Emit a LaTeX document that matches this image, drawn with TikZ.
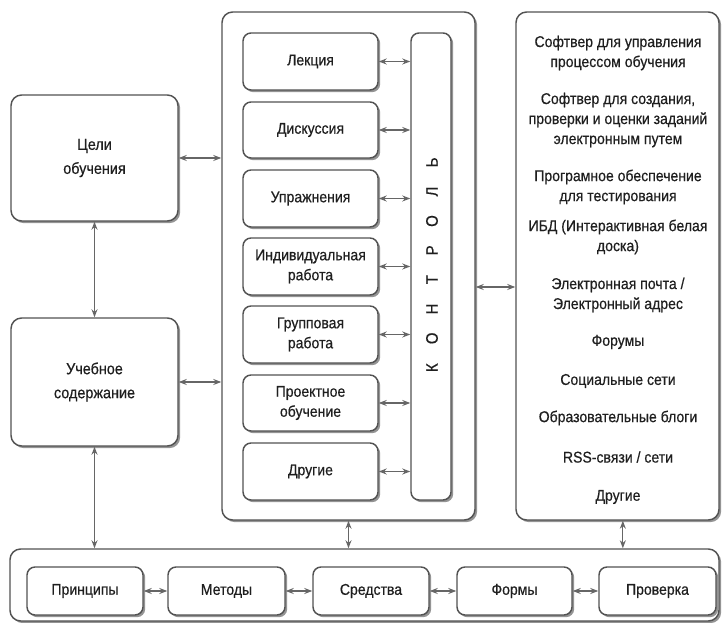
\documentclass[tikz,border=0pt]{standalone}
\usepackage{fontspec}
\setmainfont[FakeStretch=0.9,FakeBold=0.5]{Liberation Sans}
\usetikzlibrary{shadows,arrows.meta}
\newcommand\mybox[7][box]{%
  \node[#1, minimum width={(#5-#3)*0.75pt}, minimum height={(#6-#4)*0.75pt}] (#2) at ({(#3+#5)/2},{(#4+#6)/2}) {#7};}
\begin{document}
\begin{tikzpicture}[x=0.75pt,y=-0.75pt,
  every node/.style={font=\fontsize{11.7}{15}\selectfont, text=black!88},
  box/.style={draw=black!68, line width=1.1pt, rounded corners=6pt, fill=white, inner sep=0pt, align=center,
    drop shadow={shadow xshift=1.6pt, shadow yshift=-1.6pt, fill=black!42, opacity=1}},
  bigbox/.style={box, rounded corners=8pt},
  leftbox/.style={bigbox, font=\fontsize{12}{18}\selectfont},
  conn/.style={draw=black!60, line width=0.9pt, {Stealth[length=6pt,width=4.5pt]}-{Stealth[length=6pt,width=4.5pt]}},
  item/.style={align=center, inner sep=0pt},
]
\useasboundingbox (0,0) rectangle (722,623);

% left boxes
\mybox[leftbox]{goals}{11}{95}{178}{221}{Цели\\обучения}
\mybox[leftbox]{content}{11}{318}{178}{446}{Учебное\\содержание}

% big containers
\mybox[bigbox]{mid}{222}{12}{475}{520}{}
\mybox[bigbox]{soft}{516}{12}{719}{520}{}
\mybox[bigbox]{bot}{10}{549}{719}{621}{}

% forms of teaching
\mybox{b1}{243}{33}{378}{90}{Лекция}
\mybox{b2}{243}{102}{378}{158}{Дискуссия}
\mybox{b3}{243}{170}{378}{227}{Упражнения}
\mybox{b4}{243}{238}{378}{295}{Индивидуальная\\работа}
\mybox{b5}{243}{306}{378}{363}{Групповая\\работа}
\mybox{b6}{243}{375}{378}{431}{Проектное\\обучение}
\mybox{b7}{243}{443}{378}{500}{Другие}

% control bar
\mybox{ctrl}{411}{33}{451}{500}{}
\node[rotate=90, inner sep=0pt, font=\fontsize{12.5}{14}\selectfont] (ctrltext) at (432,265)
  {\makebox[22pt]{К}\makebox[22pt]{О}\makebox[22pt]{Н}\makebox[22pt]{Т}\makebox[22pt]{Р}\makebox[22pt]{О}\makebox[22pt]{Л}\makebox[22pt]{Ь}};

\foreach \b in {b1,b2,b3,b4,b5,b6,b7}
  \draw[conn] (\b.east) -- (\b.east -| ctrl.west);

% software list
\node[item] (s1) at (618,53) {Софтвер для управления\\процессом обучения};
\node[item] (s2) at (618,120) {Софтвер для создания,\\проверки и оценки заданий\\электронным путем};
\node[item] (s3) at (618,187) {Програмное обеспечение\\для тестирования};
\node[item] (s4) at (618,237) {ИБД (Интерактивная белая\\доска)};
\node[item] (s5) at (618,295) {Электронная почта /\\Электронный адрес};
\node[item] (s6) at (618,342) {Форумы};
\node[item] (s7) at (618,381) {Социальные сети};
\node[item] (s8) at (618,418) {Образовательные блоги};
\node[item] (s9) at (618,457) {RSS-связи / сети};
\node[item] (s10) at (618,497) {Другие};

% bottom row
\mybox{p1}{27}{567}{143}{615}{Принципы}
\mybox{p2}{168}{567}{285}{615}{Методы}
\mybox{p3}{313}{567}{429}{615}{Средства}
\mybox{p4}{457}{567}{572}{615}{Формы}
\mybox{p5}{599}{567}{716}{615}{Проверка}
\draw[conn] (p1) -- (p2);
\draw[conn] (p2) -- (p3);
\draw[conn] (p3) -- (p4);
\draw[conn] (p4) -- (p5);

% connectors
\draw[conn] (goals.south) -- (content.north);
\draw[conn] (content.south) -- (content.south |- bot.north);
\draw[conn] (goals.east) -- (goals.east -| mid.west);
\draw[conn] (content.east) -- (content.east -| mid.west);
\draw[conn] ([yshift=-15.75pt]mid.east) -- ([yshift=-15.75pt]mid.east -| soft.west);
\draw[conn] (mid.south) -- (mid.south |- bot.north);
\draw[conn] ([xshift=4pt]soft.south) -- ([xshift=4pt]soft.south |- bot.north);
\end{tikzpicture}
\end{document}
